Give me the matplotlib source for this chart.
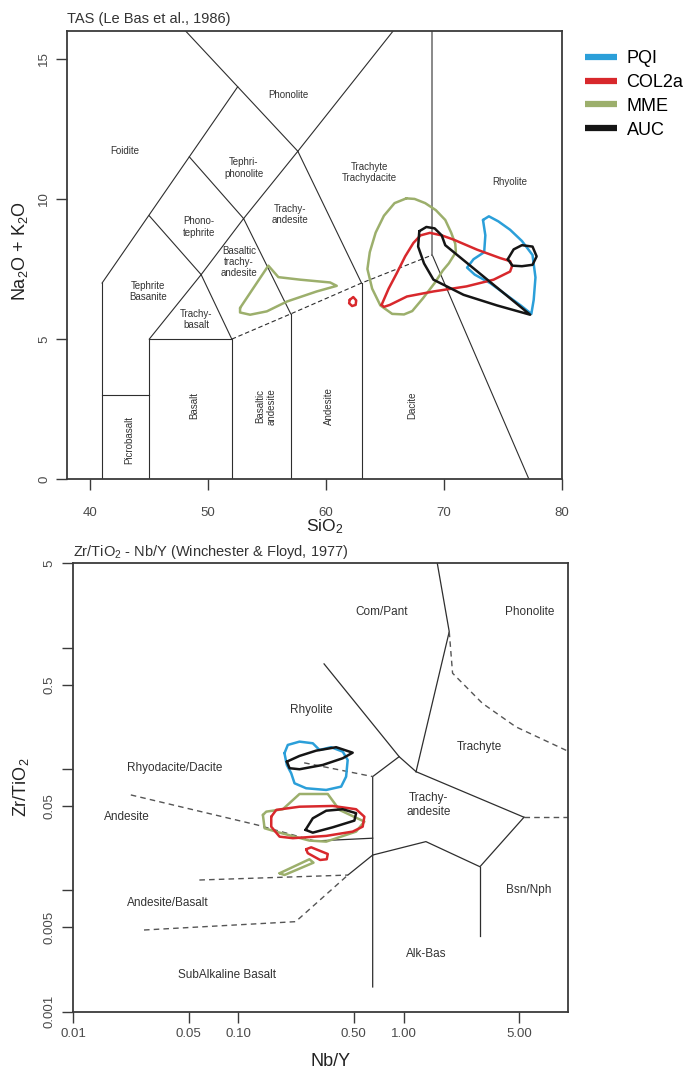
import matplotlib
matplotlib.use('Agg')
import matplotlib.pyplot as plt
from matplotlib.lines import Line2D

plt.rcParams['font.family'] = ['Liberation Sans', 'DejaVu Sans']
plt.rcParams['mathtext.fontset'] = 'custom'
plt.rcParams['mathtext.rm'] = 'Liberation Sans'
plt.rcParams['mathtext.it'] = 'Liberation Sans:italic'
plt.rcParams['mathtext.bf'] = 'Liberation Sans:bold'

# ---------------- series ----------------
series_names = ['PQI', 'COL2a', 'MME', 'AUC']
series_colors = ['#2b9fd9', '#d8282c', '#9caf6c', '#151515']

# ---------------- TAS (SiO2 vs Na2O+K2O) outlines ----------------
tas_mme_a_x = [52.7, 55.1, 55.95, 57.8, 60.34, 60.9, 59.2, 56.67, 54.97, 53.55, 52.7]
tas_mme_a_y = [6.11, 7.62, 7.21, 7.12, 7.02, 6.9, 6.7, 6.34, 5.99, 5.87, 5.95]

tas_mme_b_x = [66.8, 67.5, 68.4, 69.3, 70.1, 70.6, 70.95, 71.0, 70.4, 69.9, 69.2, 68.2, 67.3, 66.6,
               65.6, 64.6, 63.9, 63.5, 63.7, 64.2, 64.9, 65.8]
tas_mme_b_y = [10.02, 10.0, 9.85, 9.6, 9.25, 8.8, 8.4, 8.1, 7.7, 7.45, 7.0, 6.45, 6.0, 5.88,
               5.9, 6.2, 6.8, 7.5, 8.1, 8.8, 9.4, 9.85]

tas_col_a_x = [64.7, 65.3, 66.0, 66.7, 67.4, 68.0, 68.8, 69.8, 70.8, 72.8, 74.76, 75.6, 75.76, 75.6,
               74.2, 71.9, 69.1, 66.85, 65.4, 64.9]
tas_col_a_y = [6.22, 6.8, 7.36, 7.95, 8.43, 8.7, 8.79, 8.7, 8.55, 8.19, 7.89, 7.78, 7.6, 7.41,
               7.12, 6.88, 6.7, 6.52, 6.22, 6.15]

tas_col_b_x = [62.0, 62.3, 62.55, 62.5, 62.2, 61.95]
tas_col_b_y = [6.4, 6.5, 6.38, 6.22, 6.18, 6.28]

tas_auc_a_x = [67.9, 68.5, 69.2, 69.8, 70.1, 77.3, 74.5, 71.65, 69.1, 68.3, 67.8]
tas_auc_a_y = [8.85, 9.0, 8.95, 8.7, 8.35, 5.87, 6.2, 6.58, 7.12, 7.7, 8.3]

tas_auc_b_x = [75.4, 75.9, 76.6, 77.5, 77.85, 77.5, 76.6, 75.8]
tas_auc_b_y = [7.85, 8.2, 8.35, 8.3, 7.95, 7.65, 7.6, 7.62]

tas_pqi_x = [73.3, 73.8, 74.6, 75.6, 76.6, 77.5, 77.75, 77.6, 77.4, 76.5, 75.2, 73.9, 72.6,
             71.95, 72.5, 73.4, 73.5]
tas_pqi_y = [9.25, 9.38, 9.2, 8.9, 8.5, 8.0, 7.2, 6.4, 5.9, 6.2, 6.6, 7.0, 7.3,
             7.55, 7.85, 8.1, 8.7]

# ---------------- Winchester & Floyd (Nb/Y vs Zr/TiO2) outlines ----------------
wf_pqi_x = [0.19, 0.199, 0.2343, 0.282, 0.3096, 0.364, 0.428, 0.4587, 0.4487, 0.4187, 0.34,
            0.257, 0.2186, 0.2087, 0.1963]
wf_pqi_y = [0.1356, 0.1587, 0.169, 0.1638, 0.1443, 0.152, 0.1397, 0.1193, 0.0869, 0.0719, 0.0675,
            0.0697, 0.0766, 0.0927, 0.1085]

wf_auc_a_x = [0.1963, 0.2343, 0.2956, 0.3904, 0.4918, 0.428, 0.324, 0.2343, 0.204]
wf_auc_a_y = [0.1155, 0.1288, 0.1424, 0.152, 0.137, 0.1232, 0.1085, 0.1, 0.102]

wf_mme_a_x = [0.1406, 0.1474, 0.1857, 0.2343, 0.3475, 0.4088, 0.5787, 0.5157, 0.34, 0.269, 0.1774, 0.144]
wf_mme_a_y = [0.042, 0.0447, 0.0468, 0.0625, 0.0625, 0.0462, 0.037, 0.0306, 0.0253, 0.0258, 0.03, 0.0326]

wf_col_a_x = [0.158, 0.1694, 0.2343, 0.3724, 0.5157, 0.5787, 0.5653, 0.4918, 0.34, 0.2135, 0.1774, 0.158]
wf_col_a_y = [0.0406, 0.0462, 0.0491, 0.0498, 0.0468, 0.0406, 0.0336, 0.0306, 0.0282, 0.027, 0.0278, 0.0336]

wf_auc_b_x = [0.2547, 0.282, 0.34, 0.428, 0.5157, 0.5036, 0.3724, 0.282]
wf_auc_b_y = [0.0316, 0.0394, 0.0455, 0.0468, 0.0434, 0.0377, 0.0332, 0.03]

wf_col_b_x = [0.257, 0.2757, 0.3475, 0.3425, 0.3125, 0.263]
wf_col_b_y = [0.02188, 0.0227, 0.02, 0.0181, 0.01785, 0.0203]

wf_mme_b_x = [0.1774, 0.269, 0.2847, 0.19]
wf_mme_b_y = [0.01387, 0.0181, 0.01696, 0.01342]

# ---------------- diagram templates ----------------
tas_solid = [
    [(41, 0), (41, 7)],
    [(41, 3), (45, 3)],
    [(45, 0), (45, 5), (52, 5), (52, 0)],
    [(57, 0), (57, 5.9)],
    [(63, 0), (63, 7)],
    [(45, 5), (49.4, 7.3), (52, 5)],
    [(49.4, 7.3), (53, 9.3), (57, 5.9)],
    [(53, 9.3), (57.6, 11.7), (63, 7)],
    [(41, 7), (52.5, 14), (57.6, 11.7)],
    [(45, 9.4), (49.4, 7.3)],
    [(48.4, 11.5), (53, 9.3)],
    [(52.5, 14), (48.06, 16)],
    [(57.6, 11.7), (65.7, 16)],
    [(69, 8), (77.2, 0)],
]
tas_gray = [[(69, 8), (69, 16)]]
tas_dashed = [[(52, 5), (57, 5.9), (63, 7), (69, 8)]]

tas_labels = [
    ("Foidite", 42.9, 11.7, 0), ("Phonolite", 56.8, 13.7, 0),
    ("Tephri-\nphonolite", 53.0, 11.1, 0), ("Phono-\ntephrite", 49.2, 9.0, 0),
    ("Trachy-\nandesite", 56.9, 9.44, 0), ("Basaltic\ntrachy-\nandesite", 52.6, 7.75, 0),
    ("Trachyte\nTrachydacite", 63.7, 10.93, 0), ("Rhyolite", 75.6, 10.6, 0),
    ("Tephrite\nBasanite", 44.9, 6.7, 0), ("Trachy-\nbasalt", 49.0, 5.7, 0),
    ("Picrobasalt", 43.3, 1.4, 90), ("Basalt", 48.8, 2.65, 90),
    ("Basaltic\nandesite", 54.9, 2.6, 90), ("Andesite", 60.2, 2.6, 90),
    ("Dacite", 67.3, 2.65, 90),
]

wf_solid = [
    [(1.6, 5.0), (1.89, 1.365), (1.19, 0.0955)],
    [(0.33, 0.74), (0.94, 0.127), (1.19, 0.0955)],
    [(1.19, 0.0955), (5.36, 0.0402)],
    [(0.94, 0.127), (0.65, 0.087), (0.65, 0.0016)],
    [(0.65, 0.0196), (1.365, 0.0253), (2.9, 0.0157), (5.36, 0.0402)],
    [(2.9, 0.0157), (2.9, 0.0042)],
    [(0.65, 0.0196), (0.46, 0.0134)],
    [(0.29, 0.0256), (0.65, 0.027)],
]
wf_dashed = [
    [(1.89, 1.365), (1.98, 0.62), (3.0, 0.35), (4.78, 0.224), (10.0, 0.14)],
    [(5.36, 0.0402), (10.0, 0.0402)],
    [(0.25, 0.113), (0.65, 0.087)],
    [(0.0223, 0.0614), (0.13, 0.0347), (0.29, 0.0256)],
    [(0.058, 0.0122), (0.46, 0.0134)],
    [(0.0268, 0.00472), (0.222, 0.00553), (0.46, 0.0134)],
]
wf_labels = [
    ("Com/Pant", 0.74, 2.0), ("Phonolite", 5.81, 2.0), ("Rhyolite", 0.275, 0.308),
    ("Trachyte", 2.87, 0.154), ("Rhyodacite/Dacite", 0.0412, 0.102),
    ("Trachy-\nandesite", 1.41, 0.0507), ("Andesite", 0.0211, 0.0406),
    ("Bsn/Nph", 5.75, 0.0101), ("Andesite/Basalt", 0.0374, 0.00793),
    ("Alk-Bas", 1.37, 0.00299), ("SubAlkaline Basalt", 0.0847, 0.00201),
]

tas_xticks = [40, 50, 60, 70, 80]
tas_yticks = [0, 5, 10, 15]
wf_xticks = [0.01, 0.05, 0.10, 0.50, 1.00, 5.00]
wf_xticklabels = ['0.01', '0.05', '0.10', '0.50', '1.00', '5.00']
wf_yticks = [5, 1, 0.5, 0.1, 0.05, 0.01, 0.005, 0.001]
wf_yticklabels = ['5', '', '0.5', '', '0.05', '', '0.005', '0.001']

# ---------------- figure ----------------
W, H = 695, 1072
fig = plt.figure(figsize=(W / 100, H / 100), dpi=100)

LINE_C = '#2e2e2e'
TXT_C = '#333333'
TICK_C = '#4a4a4a'


def closed(xs, ys):
    return list(xs) + [xs[0]], list(ys) + [ys[0]]


def style_axes(ax):
    for s in ax.spines.values():
        s.set_color('#3a3a3a')
        s.set_linewidth(1.3)
    ax.tick_params(which='both', direction='out', length=8, width=1.0, color='#3a3a3a',
                   labelcolor=TICK_C, labelsize=9.5)
    ax.tick_params(which='minor', length=0)


# ---- top: TAS ----
ax1 = fig.add_axes([66.7 / W, 1 - 479.3 / H, (562 - 66.7) / W, (479.3 - 30.7) / H])
ax1.set_xlim(38, 80)
ax1.set_ylim(0, 16)
style_axes(ax1)
ax1.set_xticks(tas_xticks)
ax1.set_yticks(tas_yticks)
ax1.tick_params(axis='x', pad=12)
ax1.tick_params(axis='y', pad=4)
for lab in ax1.get_yticklabels():
    lab.set_rotation(90)
    lab.set_va('center')

for seg in tas_solid:
    xs, ys = zip(*seg)
    ax1.plot(xs, ys, color=LINE_C, lw=0.8, zorder=2)
for seg in tas_gray:
    xs, ys = zip(*seg)
    ax1.plot(xs, ys, color='#808080', lw=1.3, zorder=2)
for seg in tas_dashed:
    xs, ys = zip(*seg)
    ax1.plot(xs, ys, color=LINE_C, lw=0.8, ls=(0, (4, 2.5)), zorder=2)

for txt, x, y, rot in tas_labels:
    ax1.text(x, y, txt, fontsize=7, color=TXT_C, ha='center', va='center',
             rotation=rot, linespacing=1.15, zorder=3)

ctas = dict(lw=1.8, solid_joinstyle='round', solid_capstyle='round', zorder=5)
ax1.plot(*closed(tas_mme_a_x, tas_mme_a_y), color=series_colors[2], **ctas)
ax1.plot(*closed(tas_mme_b_x, tas_mme_b_y), color=series_colors[2], **ctas)
ax1.plot(*closed(tas_pqi_x, tas_pqi_y), color=series_colors[0], **ctas)
ax1.plot(*closed(tas_col_a_x, tas_col_a_y), color=series_colors[1], **ctas)
ax1.plot(*closed(tas_col_b_x, tas_col_b_y), color=series_colors[1], **ctas)
ax1.plot(*closed(tas_auc_a_x, tas_auc_a_y), color=series_colors[3], **ctas)
ax1.plot(*closed(tas_auc_b_x, tas_auc_b_y), color=series_colors[3], **ctas)

ax1.set_xlabel('SiO$_2$', fontsize=12.5, color='#222222', va='center')
ax1.xaxis.set_label_coords(0.52, -0.106)
ax1.set_ylabel('Na$_2$O + K$_2$O', fontsize=13, color='#222222', va='center')
ax1.yaxis.set_label_coords(-0.094, 0.51)
ax1.text(0.0, 1.01, 'TAS (Le Bas et al., 1986)', transform=ax1.transAxes,
         fontsize=10.5, color=TXT_C, ha='left', va='bottom')

# ---- bottom: Winchester & Floyd ----
ax2 = fig.add_axes([73.3 / W, 1 - 1011.7 / H, (568 - 73.3) / W, (1011.7 - 563.3) / H])
ax2.set_xscale('log')
ax2.set_yscale('log')
ax2.set_xlim(0.01, 9.9)
ax2.set_ylim(0.001, 5)
style_axes(ax2)
ax2.set_xticks(wf_xticks)
ax2.set_xticklabels(wf_xticklabels)
ax2.set_yticks(wf_yticks)
ax2.set_yticklabels(wf_yticklabels)
ax2.minorticks_off()
ax2.tick_params(axis='x', pad=4)
ax2.tick_params(axis='y', pad=5)
for lab in ax2.get_yticklabels():
    lab.set_rotation(90)
    lab.set_va('center')

for seg in wf_solid:
    xs, ys = zip(*seg)
    ax2.plot(xs, ys, color=LINE_C, lw=0.9, zorder=2)
for seg in wf_dashed:
    xs, ys = zip(*seg)
    ax2.plot(xs, ys, color='#555555', lw=1.0, ls=(0, (4, 3)), zorder=2)

for txt, x, y in wf_labels:
    ax2.text(x, y, txt, fontsize=8.5, color=TXT_C, ha='center', va='center',
             linespacing=1.3, zorder=3)

cwf = dict(lw=1.8, solid_joinstyle='round', solid_capstyle='round', zorder=5)
ax2.plot(*closed(wf_mme_a_x, wf_mme_a_y), color=series_colors[2], **cwf)
ax2.plot(*closed(wf_mme_b_x, wf_mme_b_y), color=series_colors[2], **cwf)
ax2.plot(*closed(wf_pqi_x, wf_pqi_y), color=series_colors[0], **cwf)
ax2.plot(*closed(wf_col_a_x, wf_col_a_y), color=series_colors[1], **cwf)
ax2.plot(*closed(wf_col_b_x, wf_col_b_y), color=series_colors[1], **cwf)
ax2.plot(*closed(wf_auc_a_x, wf_auc_a_y), color=series_colors[3], **cwf)
ax2.plot(*closed(wf_auc_b_x, wf_auc_b_y), color=series_colors[3], **cwf)

ax2.set_xlabel('Nb/Y', fontsize=13, color='#222222', va='center')
ax2.xaxis.set_label_coords(0.52, -0.111)
ax2.set_ylabel('Zr/TiO$_2$', fontsize=13, color='#222222', va='center')
ax2.yaxis.set_label_coords(-0.106, 0.5)
ax2.text(0.0, 1.006, 'Zr/TiO$_2$ - Nb/Y (Winchester & Floyd, 1977)', transform=ax2.transAxes,
         fontsize=10.5, color=TXT_C, ha='left', va='bottom')

# ---- legend ----
handles = [Line2D([], [], color=c, lw=4.5, solid_capstyle='butt') for c in series_colors]
fig.legend(handles, series_names, loc='upper left', bbox_to_anchor=(585 / W, 1 - 50 / H),
           frameon=False, fontsize=13, handlelength=1.75, handletextpad=0.55,
           labelspacing=0.38, borderpad=0, borderaxespad=0)

fig.savefig('out.png', dpi=100)
